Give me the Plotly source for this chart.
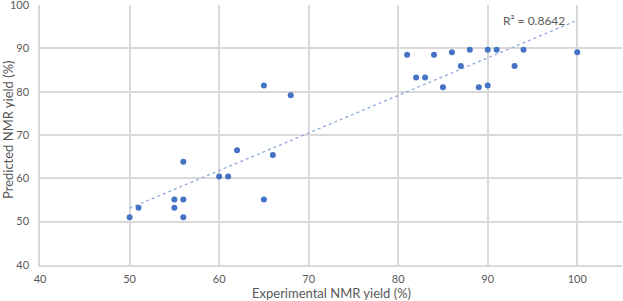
import numpy as np
import plotly.graph_objects as go

experimental = [65, 68, 62, 81, 82, 83, 84, 85, 86, 87, 88, 89, 90, 90, 91, 93, 94, 100,
                56, 60, 61, 66, 55, 56, 65, 55, 51, 50, 56]
predicted = [81.4, 79.2, 66.5, 88.5, 83.3, 83.3, 88.5, 81.0, 89.1, 85.9, 89.7, 81.0, 89.7, 81.4, 89.7, 85.9, 89.7, 89.1,
             63.8, 60.4, 60.4, 65.4, 55.1, 55.1, 55.1, 53.2, 53.2, 51.0, 51.0]
tick_vals = [40, 50, 60, 70, 80, 90, 100]
r2_label = "R² = 0.8642"
x_title = "Experimental NMR yield (%)"
y_title = "Predicted NMR yield (%)"

x = np.array(experimental, dtype=float)
y = np.array(predicted, dtype=float)
slope, intercept = np.polyfit(x, y, 1)
tx = np.array([x.min(), x.max()])
ty = slope * tx + intercept

font = "Lato, 'Liberation Sans', sans-serif"
grey = "#595959"
fig = go.Figure()
fig.add_trace(go.Scatter(x=tx, y=ty, mode="lines",
                         line=dict(color="#8FAADC", width=1.3, dash="dot"),
                         hoverinfo="skip", showlegend=False))
fig.add_trace(go.Scatter(x=experimental, y=predicted, mode="markers",
                         marker=dict(color="#4472C4", size=6),
                         showlegend=False))
fig.add_annotation(x=95.2, y=96.5, xref="x", yref="y", text=r2_label, showarrow=False,
                   xanchor="center", yanchor="middle",
                   font=dict(family=font, size=12, color=grey))
fig.add_annotation(x=0.5, y=0, xref="paper", yref="paper", text=x_title, showarrow=False,
                   xanchor="center", yanchor="middle",
                   yshift=-28, font=dict(family=font, size=13, color=grey))
fig.add_annotation(x=0, y=0.5, xref="paper", yref="paper", text=y_title, showarrow=False,
                   xanchor="center", yanchor="middle",
                   xshift=-32, yshift=5, textangle=-90, font=dict(family=font, size=13, color=grey))
fig.update_layout(
    width=623, height=301,
    margin=dict(l=40, r=1, t=5, b=36),
    plot_bgcolor="white", paper_bgcolor="white",
    font=dict(family=font, size=11, color=grey),
)
fig.update_xaxes(range=[39.99, 105], tickvals=tick_vals, automargin=False,
                 showgrid=True, gridcolor="#D9D9D9", gridwidth=1.5,
                 zeroline=False, showline=True, linecolor="#D9D9D9", linewidth=1.5,
                 ticks="", ticklabelstandoff=3, ticklabeloverflow="allow")
fig.update_yaxes(range=[39.99, 100.01], tickvals=tick_vals, automargin=False,
                 showgrid=True, gridcolor="#D9D9D9", gridwidth=1.5,
                 zeroline=False, showline=True, linecolor="#D9D9D9", linewidth=1.5,
                 ticks="", ticklabelstandoff=7, ticklabeloverflow="allow")
fig.write_html("out.html", post_script="document.body.style.margin='0';",
               config={"displayModeBar": False})
